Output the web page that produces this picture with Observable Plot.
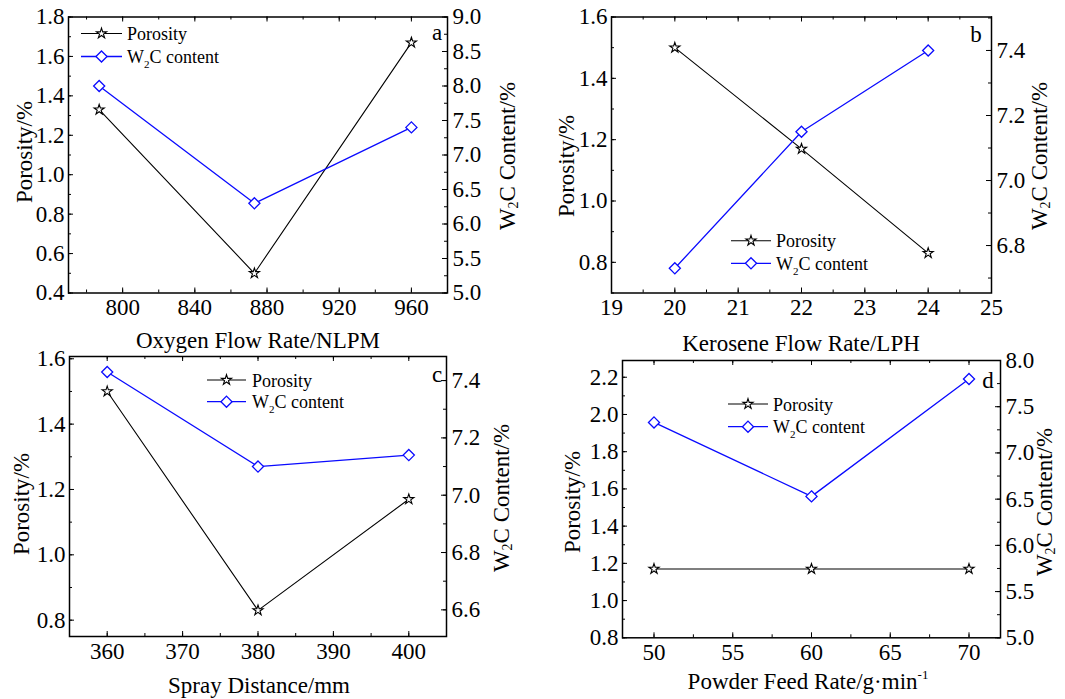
<!DOCTYPE html>
<html>
<head>
<meta charset="utf-8">
<script src="https://cdn.jsdelivr.net/npm/d3@7"></script>
<script src="https://cdn.jsdelivr.net/npm/@observablehq/plot@0.6"></script>
<style>
  html, body { margin: 0; padding: 0; background: #fff; }
  #chart { position: relative; width: 1065px; height: 699px; overflow: hidden; background: #fff; }
  #chart svg { position: absolute; left: 0; top: 0; }
</style>
</head>
<body>
<div id="chart"></div>
<script>
// ---------------- data ----------------
const oxygenFlow   = [787, 873, 960];
const porosityA    = [1.33, 0.50, 1.67];
const w2cA         = [8.00, 6.30, 7.40];

const keroseneFlow = [20, 22, 24];
const porosityB    = [1.50, 1.17, 0.83];
const w2cB         = [6.73, 7.15, 7.40];

const sprayDistance = [360, 380, 400];
const porosityC     = [1.50, 0.83, 1.17];
const w2cC          = [7.43, 7.10, 7.14];

const powderFeed   = [50, 60, 70];
const porosityD    = [1.17, 1.17, 1.17];
const w2cD         = [7.33, 6.53, 7.80];

// tick labels
const xTicksA   = [800, 840, 880, 920, 960];
const porTicksA = [0.4, 0.6, 0.8, 1.0, 1.2, 1.4, 1.6, 1.8];
const w2cTicksA = [5.0, 5.5, 6.0, 6.5, 7.0, 7.5, 8.0, 8.5, 9.0];

const xTicksB   = [19, 20, 21, 22, 23, 24, 25];
const porTicksB = [0.8, 1.0, 1.2, 1.4, 1.6];
const w2cTicksB = [6.8, 7.0, 7.2, 7.4];

const xTicksC   = [360, 370, 380, 390, 400];
const porTicksC = [0.8, 1.0, 1.2, 1.4, 1.6];
const w2cTicksC = [6.6, 6.8, 7.0, 7.2, 7.4];

const xTicksD   = [50, 55, 60, 65, 70];
const porTicksD = [0.8, 1.0, 1.2, 1.4, 1.6, 1.8, 2.0, 2.2];
const w2cTicksD = [5.0, 5.5, 6.0, 6.5, 7.0, 7.5, 8.0];

const xTitles = ["Oxygen Flow Rate/NLPM", "Kerosene Flow Rate/LPH", "Spray Distance/mm", "Powder Feed Rate/g\u00b7min"];
const leftTitle = "Porosity/%";
const seriesNames = ["Porosity", "content"];
const panelLetters = ["a", "b", "c", "d"];

// ---------------- layout ----------------
const W = 1065, H = 699;
const FONT = "'Liberation Serif','Times New Roman',Times,serif";
const BLUE = "#0a0aff";

const panels = [
  { x: oxygenFlow, por: porosityA, w2c: w2cA, xTicks: xTicksA, porTicks: porTicksA, w2cTicks: w2cTicksA,
    frame: {l: 68, r: 447, t: 16.5, b: 292.5}, xDomain: [770, 980], yDomain: [0.4, 1.8], y2Domain: [5, 9],
    xMinor: 20, yMinor: 0.1, y2Minor: 0.25,
    xTitle: {x: 258, y: 348}, leftT: {x: 24, y: 152}, rightT: {x: 507, y: 156},
    legend: {x1: 81, x2: 122, y: 33.5, dy: 23, tx: 127}, letter: {x: 437, y: 39.5} },
  { x: keroseneFlow, por: porosityB, w2c: w2cB, xTicks: xTicksB, porTicks: porTicksB, w2cTicks: w2cTicksB,
    frame: {l: 611, r: 991, t: 16.5, b: 292.5}, xDomain: [19, 25], yDomain: [0.7, 1.6], y2Domain: [6.654, 7.503],
    xMinor: 0.5, yMinor: 0.1, y2Minor: 0.1,
    xTitle: {x: 801, y: 351}, leftT: {x: 566, y: 166}, rightT: {x: 1039, y: 156},
    legend: {x1: 731, x2: 771, y: 240.7, dy: 22.6, tx: 776}, letter: {x: 976, y: 41.7} },
  { x: sprayDistance, por: porosityC, w2c: w2cC, xTicks: xTicksC, porTicks: porTicksC, w2cTicks: w2cTicksC,
    frame: {l: 69, r: 446, t: 356, b: 636}, xDomain: [355, 405], yDomain: [0.75, 1.607], y2Domain: [6.507, 7.484],
    xMinor: 5, yMinor: 0.1, y2Minor: 0.1,
    xTitle: {x: 259, y: 693}, leftT: {x: 21, y: 504}, rightT: {x: 501, y: 498},
    legend: {x1: 207, x2: 246, y: 380, dy: 21.7, tx: 252}, letter: {x: 437, y: 381.7} },
  { x: powderFeed, por: porosityD, w2c: w2cD, xTicks: xTicksD, porTicks: porTicksD, w2cTicks: w2cTicksD,
    frame: {l: 622, r: 1000, t: 360, b: 637.3}, xDomain: [48, 72], yDomain: [0.8, 2.29], y2Domain: [5, 8],
    xMinor: 2.5, yMinor: 0.1, y2Minor: 0.25,
    xTitle: {x: 808, y: 689}, leftT: {x: 572, y: 502}, rightT: {x: 1044, y: 502},
    legend: {x1: 728, x2: 768, y: 404, dy: 22.7, tx: 773}, letter: {x: 988, y: 388} }
];

function ticksIn([a, b], step) {
  const out = [];
  for (let k = Math.ceil(a / step - 1e-9); k * step <= b + 1e-9; k++) out.push(+(k * step).toFixed(6));
  return out;
}

const chart = document.getElementById("chart");
const baseStyle = {fontFamily: FONT, fontSize: "23px", color: "black", background: "transparent", overflow: "visible"};
const MAJ = 5, MIN = 3;

panels.forEach((p, i) => {
  const f = p.frame;
  const fw = f.r - f.l, fh = f.b - f.t;
  const margins = {marginLeft: f.l, marginRight: W - f.r, marginTop: f.t, marginBottom: H - f.b};
  const rows = p.x.map((x, j) => ({x, por: p.por[j], w2c: p.w2c[j]}));
  const xMinor = ticksIn(p.xDomain, p.xMinor);
  const yMinor = ticksIn(p.yDomain, p.yMinor);
  const y2Minor = ticksIn(p.y2Domain, p.y2Minor);
  const xFmt = d3.format("d");
  const yFmt = d3.format(".1f");

  const w2cPlot = Plot.plot({
    width: W, height: H, ...margins, style: baseStyle,
    x: {domain: p.xDomain, axis: null},
    y: {domain: p.y2Domain, axis: null},
    marks: [
      Plot.tickY(y2Minor, {y: d => d, insetLeft: fw - MIN, stroke: "black", strokeWidth: 1}),
      Plot.tickY(p.w2cTicks, {y: d => d, insetLeft: fw - MAJ, stroke: "black", strokeWidth: 1}),
      Plot.axisY(p.w2cTicks, {anchor: "right", tickSize: 0, tickPadding: 5, label: null, tickFormat: yFmt}),
      Plot.line(rows, {x: "x", y: "w2c", stroke: BLUE, strokeWidth: 1.3}),
      Plot.dot(rows, {x: "x", y: "w2c", symbol: "diamond2", r: 5, stroke: BLUE, fill: "white", strokeWidth: 1.3})
    ]
  });

  const porPlot = Plot.plot({
    width: W, height: H, ...margins, style: baseStyle,
    x: {domain: p.xDomain},
    y: {domain: p.yDomain},
    marks: [
      Plot.tickX(xMinor, {x: d => d, insetTop: fh - MIN, stroke: "black", strokeWidth: 1}),
      Plot.tickX(p.xTicks, {x: d => d, insetTop: fh - MAJ, stroke: "black", strokeWidth: 1}),
      Plot.tickX(xMinor, {x: d => d, insetBottom: fh - MIN, stroke: "black", strokeWidth: 1}),
      Plot.tickX(p.xTicks, {x: d => d, insetBottom: fh - MAJ, stroke: "black", strokeWidth: 1}),
      Plot.tickY(yMinor, {y: d => d, insetRight: fw - MIN, stroke: "black", strokeWidth: 1}),
      Plot.tickY(p.porTicks, {y: d => d, insetRight: fw - MAJ, stroke: "black", strokeWidth: 1}),
      Plot.axisX(p.xTicks, {tickSize: 0, tickPadding: 6, label: null, tickFormat: xFmt}),
      Plot.axisY(p.porTicks, {anchor: "left", tickSize: 0, tickPadding: 4, label: null, tickFormat: yFmt}),
      Plot.frame({stroke: "black", strokeWidth: 1.5}),
      Plot.line(rows, {x: "x", y: "por", stroke: "black", strokeWidth: 1.1}),
      Plot.dot(rows, {x: "x", y: "por", symbol: "star", r: 3.2, stroke: "black", fill: "white", strokeWidth: 1.1})
    ]
  });

  chart.appendChild(porPlot);
  chart.appendChild(w2cPlot);
});

// ---------------- text overlay: titles, legends, letters ----------------
const svg = d3.create("svg").attr("width", W).attr("height", H)
  .style("font-family", FONT).style("overflow", "visible");

function w2cText(sel, size, subSize, sub, rest) {
  sel.append("tspan").text("W");
  sel.append("tspan").attr("font-size", subSize).attr("dy", sub).text("2");
  sel.append("tspan").attr("dy", -sub).text(rest);
}

panels.forEach((p, i) => {
  // x title
  const xt = svg.append("text").attr("x", p.xTitle.x).attr("y", p.xTitle.y)
    .attr("text-anchor", "middle").attr("font-size", 23).attr("fill", "black");
  xt.append("tspan").text(xTitles[i]);
  if (i === 3) xt.append("tspan").attr("font-size", 13).attr("dy", -10).text("-1");

  // left title
  svg.append("text").attr("transform", `translate(${p.leftT.x},${p.leftT.y}) rotate(-90)`)
    .attr("text-anchor", "middle").attr("dominant-baseline", "central")
    .attr("font-size", 23).attr("fill", "black").text(leftTitle);

  // right title
  const rt = svg.append("text").attr("transform", `translate(${p.rightT.x},${p.rightT.y}) rotate(-90)`)
    .attr("text-anchor", "middle").attr("dominant-baseline", "central")
    .attr("font-size", 23).attr("fill", "black");
  w2cText(rt, 23, 14, 6, "C Content/%");

  // panel letter
  svg.append("text").attr("x", p.letter.x).attr("y", p.letter.y).attr("text-anchor", "middle")
    .attr("font-size", 23).attr("fill", "black").text(panelLetters[i]);

  // legend
  const L = p.legend;
  const g = svg.append("g");
  const items = [
    {color: "black", type: d3.symbolStar, r: 3.2, sw: 1.1, lw: 1.1},
    {color: BLUE, type: d3.symbolDiamond2, r: 5, sw: 1.3, lw: 1.3}
  ];
  items.forEach((it, k) => {
    const y = L.y + k * L.dy;
    const mx = (L.x1 + L.x2) / 2;
    g.append("line").attr("x1", L.x1).attr("x2", L.x2).attr("y1", y).attr("y2", y)
      .attr("stroke", it.color).attr("stroke-width", it.lw);
    g.append("path").attr("d", d3.symbol(it.type, Math.PI * it.r * it.r)())
      .attr("transform", `translate(${mx},${y})`)
      .attr("fill", "white").attr("stroke", it.color).attr("stroke-width", it.sw);
    const t = g.append("text").attr("x", L.tx).attr("y", y + 6.5).attr("font-size", 18).attr("fill", "black");
    if (k === 0) t.text(seriesNames[0]);
    else w2cText(t, 18, 11, 5, "C " + seriesNames[1]);
  });
});

chart.appendChild(svg.node());
</script>
</body>
</html>
